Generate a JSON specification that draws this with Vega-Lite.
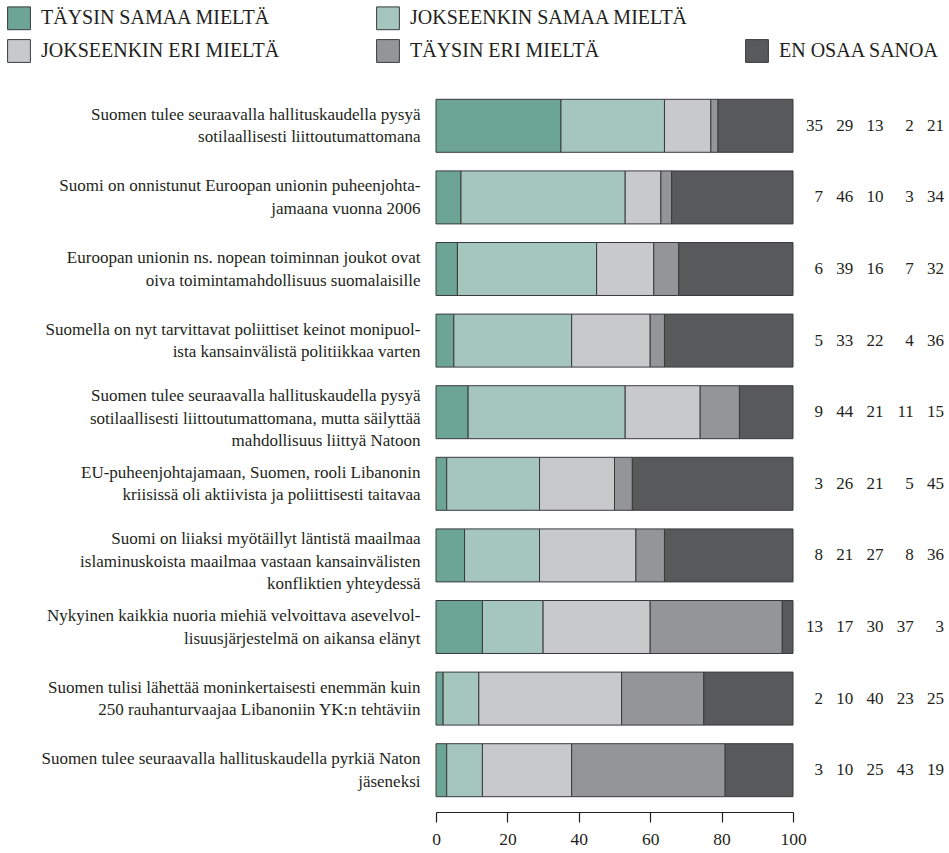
{
  "$schema": "https://vega.github.io/schema/vega-lite/v6.json",
  "autosize": {"type": "none"},
  "padding": {"left": 436, "top": 90, "right": 156, "bottom": 47},
  "width": 357,
  "height": 716,
  "background": "white",
  "config": {
    "font": "Liberation Serif",
    "view": {"stroke": null}
  },
  "data": {
    "values": [
      {"q": "Suomen tulee seuraavalla hallituskaudella pysyä|sotilaallisesti liittoutumattomana", "cat": "TÄYSIN SAMAA MIELTÄ", "k": 1, "v": 35},
      {"q": "Suomen tulee seuraavalla hallituskaudella pysyä|sotilaallisesti liittoutumattomana", "cat": "JOKSEENKIN SAMAA MIELTÄ", "k": 2, "v": 29},
      {"q": "Suomen tulee seuraavalla hallituskaudella pysyä|sotilaallisesti liittoutumattomana", "cat": "JOKSEENKIN ERI MIELTÄ", "k": 3, "v": 13},
      {"q": "Suomen tulee seuraavalla hallituskaudella pysyä|sotilaallisesti liittoutumattomana", "cat": "TÄYSIN ERI MIELTÄ", "k": 4, "v": 2},
      {"q": "Suomen tulee seuraavalla hallituskaudella pysyä|sotilaallisesti liittoutumattomana", "cat": "EN OSAA SANOA", "k": 5, "v": 21},
      {"q": "Suomi on onnistunut Euroopan unionin  puheenjohta-|jamaana vuonna 2006", "cat": "TÄYSIN SAMAA MIELTÄ", "k": 1, "v": 7},
      {"q": "Suomi on onnistunut Euroopan unionin  puheenjohta-|jamaana vuonna 2006", "cat": "JOKSEENKIN SAMAA MIELTÄ", "k": 2, "v": 46},
      {"q": "Suomi on onnistunut Euroopan unionin  puheenjohta-|jamaana vuonna 2006", "cat": "JOKSEENKIN ERI MIELTÄ", "k": 3, "v": 10},
      {"q": "Suomi on onnistunut Euroopan unionin  puheenjohta-|jamaana vuonna 2006", "cat": "TÄYSIN ERI MIELTÄ", "k": 4, "v": 3},
      {"q": "Suomi on onnistunut Euroopan unionin  puheenjohta-|jamaana vuonna 2006", "cat": "EN OSAA SANOA", "k": 5, "v": 34},
      {"q": "Euroopan unionin ns. nopean toiminnan joukot ovat|oiva toimintamahdollisuus suomalaisille", "cat": "TÄYSIN SAMAA MIELTÄ", "k": 1, "v": 6},
      {"q": "Euroopan unionin ns. nopean toiminnan joukot ovat|oiva toimintamahdollisuus suomalaisille", "cat": "JOKSEENKIN SAMAA MIELTÄ", "k": 2, "v": 39},
      {"q": "Euroopan unionin ns. nopean toiminnan joukot ovat|oiva toimintamahdollisuus suomalaisille", "cat": "JOKSEENKIN ERI MIELTÄ", "k": 3, "v": 16},
      {"q": "Euroopan unionin ns. nopean toiminnan joukot ovat|oiva toimintamahdollisuus suomalaisille", "cat": "TÄYSIN ERI MIELTÄ", "k": 4, "v": 7},
      {"q": "Euroopan unionin ns. nopean toiminnan joukot ovat|oiva toimintamahdollisuus suomalaisille", "cat": "EN OSAA SANOA", "k": 5, "v": 32},
      {"q": "Suomella on nyt tarvittavat poliittiset keinot monipuol-|ista kansainvälistä politiikkaa varten", "cat": "TÄYSIN SAMAA MIELTÄ", "k": 1, "v": 5},
      {"q": "Suomella on nyt tarvittavat poliittiset keinot monipuol-|ista kansainvälistä politiikkaa varten", "cat": "JOKSEENKIN SAMAA MIELTÄ", "k": 2, "v": 33},
      {"q": "Suomella on nyt tarvittavat poliittiset keinot monipuol-|ista kansainvälistä politiikkaa varten", "cat": "JOKSEENKIN ERI MIELTÄ", "k": 3, "v": 22},
      {"q": "Suomella on nyt tarvittavat poliittiset keinot monipuol-|ista kansainvälistä politiikkaa varten", "cat": "TÄYSIN ERI MIELTÄ", "k": 4, "v": 4},
      {"q": "Suomella on nyt tarvittavat poliittiset keinot monipuol-|ista kansainvälistä politiikkaa varten", "cat": "EN OSAA SANOA", "k": 5, "v": 36},
      {"q": "Suomen tulee seuraavalla hallituskaudella pysyä|sotilaallisesti liittoutumattomana, mutta säilyttää|mahdollisuus liittyä Natoon", "cat": "TÄYSIN SAMAA MIELTÄ", "k": 1, "v": 9},
      {"q": "Suomen tulee seuraavalla hallituskaudella pysyä|sotilaallisesti liittoutumattomana, mutta säilyttää|mahdollisuus liittyä Natoon", "cat": "JOKSEENKIN SAMAA MIELTÄ", "k": 2, "v": 44},
      {"q": "Suomen tulee seuraavalla hallituskaudella pysyä|sotilaallisesti liittoutumattomana, mutta säilyttää|mahdollisuus liittyä Natoon", "cat": "JOKSEENKIN ERI MIELTÄ", "k": 3, "v": 21},
      {"q": "Suomen tulee seuraavalla hallituskaudella pysyä|sotilaallisesti liittoutumattomana, mutta säilyttää|mahdollisuus liittyä Natoon", "cat": "TÄYSIN ERI MIELTÄ", "k": 4, "v": 11},
      {"q": "Suomen tulee seuraavalla hallituskaudella pysyä|sotilaallisesti liittoutumattomana, mutta säilyttää|mahdollisuus liittyä Natoon", "cat": "EN OSAA SANOA", "k": 5, "v": 15},
      {"q": "EU-puheenjohtajamaan, Suomen, rooli Libanonin|kriisissä oli aktiivista ja poliittisesti taitavaa", "cat": "TÄYSIN SAMAA MIELTÄ", "k": 1, "v": 3},
      {"q": "EU-puheenjohtajamaan, Suomen, rooli Libanonin|kriisissä oli aktiivista ja poliittisesti taitavaa", "cat": "JOKSEENKIN SAMAA MIELTÄ", "k": 2, "v": 26},
      {"q": "EU-puheenjohtajamaan, Suomen, rooli Libanonin|kriisissä oli aktiivista ja poliittisesti taitavaa", "cat": "JOKSEENKIN ERI MIELTÄ", "k": 3, "v": 21},
      {"q": "EU-puheenjohtajamaan, Suomen, rooli Libanonin|kriisissä oli aktiivista ja poliittisesti taitavaa", "cat": "TÄYSIN ERI MIELTÄ", "k": 4, "v": 5},
      {"q": "EU-puheenjohtajamaan, Suomen, rooli Libanonin|kriisissä oli aktiivista ja poliittisesti taitavaa", "cat": "EN OSAA SANOA", "k": 5, "v": 45},
      {"q": "Suomi on liiaksi myötäillyt läntistä maailmaa|islaminuskoista maailmaa vastaan kansainvälisten|konfliktien yhteydessä", "cat": "TÄYSIN SAMAA MIELTÄ", "k": 1, "v": 8},
      {"q": "Suomi on liiaksi myötäillyt läntistä maailmaa|islaminuskoista maailmaa vastaan kansainvälisten|konfliktien yhteydessä", "cat": "JOKSEENKIN SAMAA MIELTÄ", "k": 2, "v": 21},
      {"q": "Suomi on liiaksi myötäillyt läntistä maailmaa|islaminuskoista maailmaa vastaan kansainvälisten|konfliktien yhteydessä", "cat": "JOKSEENKIN ERI MIELTÄ", "k": 3, "v": 27},
      {"q": "Suomi on liiaksi myötäillyt läntistä maailmaa|islaminuskoista maailmaa vastaan kansainvälisten|konfliktien yhteydessä", "cat": "TÄYSIN ERI MIELTÄ", "k": 4, "v": 8},
      {"q": "Suomi on liiaksi myötäillyt läntistä maailmaa|islaminuskoista maailmaa vastaan kansainvälisten|konfliktien yhteydessä", "cat": "EN OSAA SANOA", "k": 5, "v": 36},
      {"q": "Nykyinen kaikkia nuoria miehiä velvoittava asevelvol-|lisuusjärjestelmä on aikansa elänyt", "cat": "TÄYSIN SAMAA MIELTÄ", "k": 1, "v": 13},
      {"q": "Nykyinen kaikkia nuoria miehiä velvoittava asevelvol-|lisuusjärjestelmä on aikansa elänyt", "cat": "JOKSEENKIN SAMAA MIELTÄ", "k": 2, "v": 17},
      {"q": "Nykyinen kaikkia nuoria miehiä velvoittava asevelvol-|lisuusjärjestelmä on aikansa elänyt", "cat": "JOKSEENKIN ERI MIELTÄ", "k": 3, "v": 30},
      {"q": "Nykyinen kaikkia nuoria miehiä velvoittava asevelvol-|lisuusjärjestelmä on aikansa elänyt", "cat": "TÄYSIN ERI MIELTÄ", "k": 4, "v": 37},
      {"q": "Nykyinen kaikkia nuoria miehiä velvoittava asevelvol-|lisuusjärjestelmä on aikansa elänyt", "cat": "EN OSAA SANOA", "k": 5, "v": 3},
      {"q": "Suomen tulisi lähettää moninkertaisesti enemmän kuin|250 rauhanturvaajaa Libanoniin YK:n tehtäviin", "cat": "TÄYSIN SAMAA MIELTÄ", "k": 1, "v": 2},
      {"q": "Suomen tulisi lähettää moninkertaisesti enemmän kuin|250 rauhanturvaajaa Libanoniin YK:n tehtäviin", "cat": "JOKSEENKIN SAMAA MIELTÄ", "k": 2, "v": 10},
      {"q": "Suomen tulisi lähettää moninkertaisesti enemmän kuin|250 rauhanturvaajaa Libanoniin YK:n tehtäviin", "cat": "JOKSEENKIN ERI MIELTÄ", "k": 3, "v": 40},
      {"q": "Suomen tulisi lähettää moninkertaisesti enemmän kuin|250 rauhanturvaajaa Libanoniin YK:n tehtäviin", "cat": "TÄYSIN ERI MIELTÄ", "k": 4, "v": 23},
      {"q": "Suomen tulisi lähettää moninkertaisesti enemmän kuin|250 rauhanturvaajaa Libanoniin YK:n tehtäviin", "cat": "EN OSAA SANOA", "k": 5, "v": 25},
      {"q": "Suomen tulee seuraavalla hallituskaudella pyrkiä Naton|jäseneksi", "cat": "TÄYSIN SAMAA MIELTÄ", "k": 1, "v": 3},
      {"q": "Suomen tulee seuraavalla hallituskaudella pyrkiä Naton|jäseneksi", "cat": "JOKSEENKIN SAMAA MIELTÄ", "k": 2, "v": 10},
      {"q": "Suomen tulee seuraavalla hallituskaudella pyrkiä Naton|jäseneksi", "cat": "JOKSEENKIN ERI MIELTÄ", "k": 3, "v": 25},
      {"q": "Suomen tulee seuraavalla hallituskaudella pyrkiä Naton|jäseneksi", "cat": "TÄYSIN ERI MIELTÄ", "k": 4, "v": 43},
      {"q": "Suomen tulee seuraavalla hallituskaudella pyrkiä Naton|jäseneksi", "cat": "EN OSAA SANOA", "k": 5, "v": 19}
    ]
  },
  "encoding": {
    "y": {
      "field": "q",
      "type": "nominal",
      "sort": null,
      "scale": {"paddingInner": 0.26, "paddingOuter": 0.13},
      "axis": {
        "title": null,
        "domain": false,
        "ticks": false,
        "labelPadding": 16,
        "labelFontSize": 17,
        "labelColor": "#231f20",
        "labelLimit": 1000,
        "labelLineHeight": 22.5,
        "labelOffset": {"condition": {"test": "length(split(datum.value, '|')) === 3", "value": -16}, "value": -11},
        "labelExpr": "split(datum.value, '|')"
      }
    }
  },
  "resolve": {"scale": {"x": "independent"}},
  "layer": [
    {
      "mark": {"type": "bar", "strokeWidth": 1},
      "encoding": {
        "x": {
          "field": "v",
          "type": "quantitative",
          "stack": "zero",
          "scale": {"domain": [0, 100], "nice": false},
          "axis": {
            "title": null,
            "orient": "bottom",
            "values": [0, 20, 40, 60, 80, 100],
            "grid": false,
            "domain": true,
            "ticks": true,
            "offset": 6,
            "domainColor": "#231f20",
            "tickColor": "#231f20",
            "domainWidth": 1.2,
            "tickWidth": 1.2,
            "tickSize": 10,
            "labelFlush": false,
            "labelFontSize": 17.5,
            "labelPadding": 8,
            "labelColor": "#231f20"
          }
        },
        "order": {"field": "k", "type": "quantitative", "sort": "ascending"},
        "color": {
          "field": "cat",
          "type": "nominal",
          "scale": {
            "domain": ["TÄYSIN SAMAA MIELTÄ", "JOKSEENKIN SAMAA MIELTÄ", "JOKSEENKIN ERI MIELTÄ", "TÄYSIN ERI MIELTÄ", "EN OSAA SANOA", " "],
            "range": ["#6ca595", "#a4c6bc", "#c8c9cb", "#939598", "#58595b", "#ffffff"]
          },
          "legend": {
            "title": null,
            "orient": "none",
            "direction": "horizontal",
            "legendX": -429,
            "legendY": -84,
            "columns": 3,
            "gridAlign": "all",
            "columnPadding": 54,
            "rowPadding": 5,
            "values": ["TÄYSIN SAMAA MIELTÄ", "JOKSEENKIN SAMAA MIELTÄ", " ", "JOKSEENKIN ERI MIELTÄ", "TÄYSIN ERI MIELTÄ", "EN OSAA SANOA"],
            "symbolType": "square",
            "symbolSize": 520,
            "symbolStrokeWidth": 1,
            "labelFontSize": 20,
            "labelColor": "#231f20",
            "labelOffset": 10,
            "labelLimit": 1000
          }
        },
        "stroke": {
          "field": "cat",
          "type": "nominal",
          "scale": {
            "domain": ["TÄYSIN SAMAA MIELTÄ", "JOKSEENKIN SAMAA MIELTÄ", "JOKSEENKIN ERI MIELTÄ", "TÄYSIN ERI MIELTÄ", "EN OSAA SANOA", " "],
            "range": ["#3a3a3a", "#3a3a3a", "#3a3a3a", "#3a3a3a", "#3a3a3a", "#ffffff"]
          },
          "legend": {
            "title": null,
            "orient": "none",
            "direction": "horizontal",
            "legendX": -429,
            "legendY": -84,
            "columns": 3,
            "gridAlign": "all",
            "columnPadding": 54,
            "rowPadding": 5,
            "values": ["TÄYSIN SAMAA MIELTÄ", "JOKSEENKIN SAMAA MIELTÄ", " ", "JOKSEENKIN ERI MIELTÄ", "TÄYSIN ERI MIELTÄ", "EN OSAA SANOA"],
            "symbolType": "square",
            "symbolSize": 520,
            "symbolStrokeWidth": 1,
            "labelFontSize": 20,
            "labelColor": "#231f20",
            "labelOffset": 10,
            "labelLimit": 1000
          }
        }
      }
    },
    {
      "mark": {"type": "text", "align": "right", "baseline": "middle", "fontSize": 17, "color": "#231f20"},
      "encoding": {
        "x": {
          "field": "cat",
          "type": "ordinal",
          "sort": ["TÄYSIN SAMAA MIELTÄ", "JOKSEENKIN SAMAA MIELTÄ", "JOKSEENKIN ERI MIELTÄ", "TÄYSIN ERI MIELTÄ", "EN OSAA SANOA"],
          "scale": {"type": "point", "padding": 0, "range": [387, 508]},
          "axis": null
        },
        "text": {"field": "v", "type": "quantitative"}
      }
    }
  ]
}
